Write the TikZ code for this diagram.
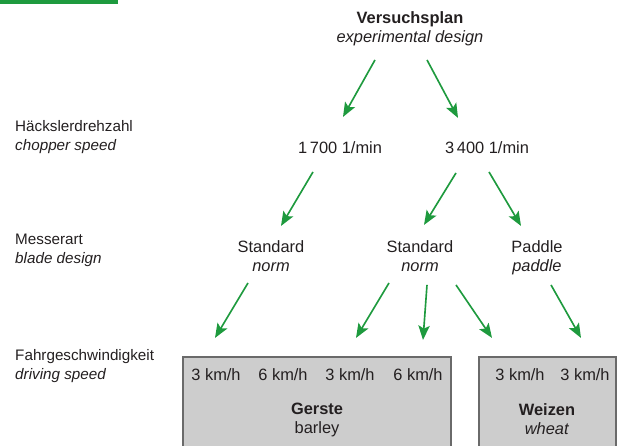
\documentclass[tikz,border=0pt]{standalone}
\usepackage{fontspec}
\setmainfont{Liberation Sans}
\usepackage{tikz}
\usetikzlibrary{arrows.meta}
\definecolor{arrowgreen}{HTML}{1E9A3E}
\definecolor{boxgray}{HTML}{CDCDCD}
\definecolor{boxline}{HTML}{6A6A6A}
\definecolor{ink}{HTML}{231F20}

\begin{document}
\begin{tikzpicture}[x=0.03cm,y=-0.03cm,
  txt/.style={text=ink, font=\fontsize{14}{16.4}\selectfont, align=center, inner sep=0pt, yshift=-2.5pt},
  lbl/.style={txt, anchor=west, align=left, font=\fontsize{13}{16.4}\selectfont},
  arr/.style={draw=arrowgreen, line width=1.4pt, -{Stealth[length=4.3mm,width=3.4mm,inset=0.9mm]}},
  cropbox/.style={fill=boxgray, draw=boxline, line width=0.9pt}]
\useasboundingbox (0,0) rectangle (640,446);
\fill[arrowgreen] (0,0) rectangle (118,4);

\filldraw[cropbox] (183,357) rectangle (451,452);
\filldraw[cropbox] (479,357) rectangle (616,452);

\node[lbl] (lrpm) at (15,134) {Häckslerdrehzahl\strut\\\textit{chopper speed}\strut};
\node[lbl] (lblade) at (15,247) {Messerart\strut\\\textit{blade design}\strut};
\node[lbl] (ldrive) at (15,363.5) {Fahrgeschwindigkeit\strut\\\textit{driving speed}\strut};

\node[txt] (plan) at (410,26.5) {\textbf{Versuchsplan}\strut\\\textit{experimental design}\strut};

\node[txt] (rpmA) at (340,147) {1\,700 1/min\strut};
\node[txt] (rpmB) at (487,147) {3\,400 1/min\strut};

\node[txt] (stdA) at (271,255.5) {Standard\strut\\\textit{norm}\strut};
\node[txt] (stdB) at (420,255.5) {Standard\strut\\\textit{norm}\strut};
\node[txt] (padl) at (537,255.5) {Paddle\strut\\\textit{paddle}\strut};

\node[txt] (sp1) at (216,374) {3 km/h\strut};
\node[txt] (sp2) at (283,374) {6 km/h\strut};
\node[txt] (sp3) at (350,374) {3 km/h\strut};
\node[txt] (sp4) at (418,374) {6 km/h\strut};
\node[txt] (sp5) at (520,374) {3 km/h\strut};
\node[txt] (sp6) at (585,374) {3 km/h\strut};

\node[txt] (barley) at (317,417) {\textbf{Gerste}\strut\\barley\strut};
\node[txt] (wheat) at (547,418) {\textbf{Weizen}\strut\\\textit{wheat}\strut};

\draw[arr] ([shift={(-35,30.5)}]plan.center) -- ([shift={(3,-33)}]rpmA.center);
\draw[arr] ([shift={(17,30.5)}]plan.center) -- ([shift={(-29,-32)}]rpmB.center);

\draw[arr] ([shift={(-27,22)}]rpmA.center) -- ([shift={(10,-32.5)}]stdA.center);
\draw[arr] ([shift={(-31,23)}]rpmB.center) -- ([shift={(4,-33.5)}]stdB.center);
\draw[arr] ([shift={(2,22)}]rpmB.center) -- ([shift={(-16,-32.5)}]padl.center);

\draw[arr] ([shift={(-23,24.5)}]stdA.center) -- ([shift={(-1,-39)}]sp1.center);
\draw[arr] ([shift={(-31,24.5)}]stdB.center) -- ([shift={(6,-39)}]sp3.center);
\draw[arr] ([shift={(7,26.5)}]stdB.center) -- ([shift={(5,-37)}]sp4.center);
\draw[arr] ([shift={(36,26.5)}]stdB.center) -- ([shift={(-28,-39)}]sp5.center);
\draw[arr] ([shift={(14,26.5)}]padl.center) -- ([shift={(-4,-39)}]sp6.center);
\end{tikzpicture}
\end{document}
